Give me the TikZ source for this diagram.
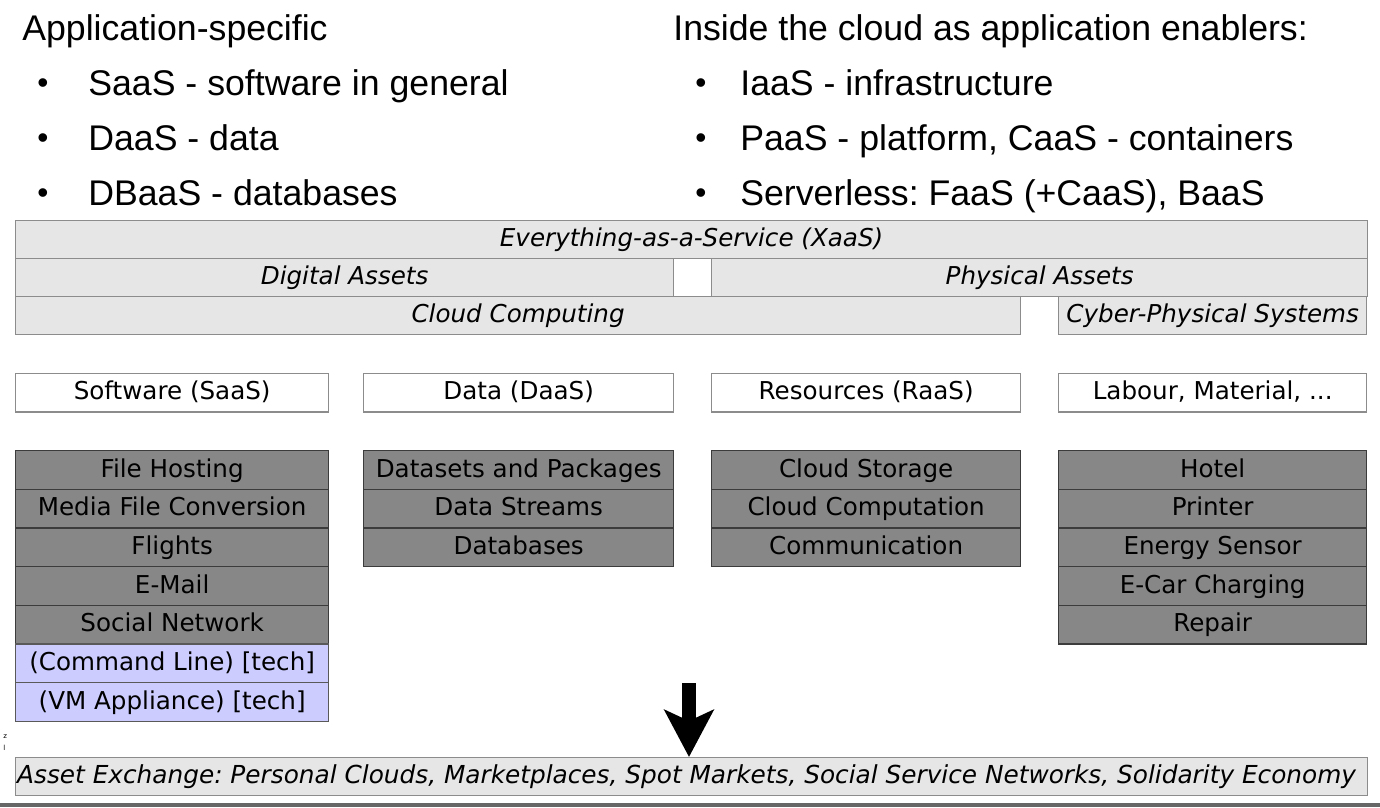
\documentclass[tikz,border=0pt]{standalone}
\usepackage{fontspec}
\setsansfont{DejaVu Sans}
\newfontfamily\slidefont{Liberation Sans}
\usetikzlibrary{arrows.meta}
\frenchspacing

\definecolor{lightfill}{HTML}{E6E6E6}
\definecolor{darkfill}{HTML}{878787}
\definecolor{techfill}{HTML}{CCCCFF}
\definecolor{edgegray}{HTML}{8C8C8C}
\definecolor{darkedge}{HTML}{3C3C3C}

\newcommand{\boxfont}{\sffamily\fontsize{14}{16}\selectfont}
\newcommand{\bigfont}{\slidefont\fontsize{20.3}{24}\selectfont}
\newcommand{\dotfont}{\slidefont\fontsize{18}{20}\selectfont}

\tikzset{
  layerbox/.style={draw=edgegray, fill=lightfill, line width=0.8pt, anchor=north west,
    inner sep=0pt, minimum height=0.76cm, text height=10.6pt, text depth=2.6pt, font=\boxfont\itshape},
  catbox/.style={draw=edgegray, fill=white, line width=0.8pt, anchor=north west,
    inner sep=0pt, minimum height=0.77cm, text height=10.6pt, text depth=2.6pt, font=\boxfont},
  itembox/.style={draw=darkedge, fill=darkfill, line width=0.8pt, anchor=north west,
    inner sep=0pt, minimum height=0.7733cm, text height=10.6pt, text depth=2.6pt, font=\boxfont},
  techbox/.style={itembox, draw=black!65, fill=techfill},
  slidetext/.style={anchor=base west, inner sep=0pt, font=\bigfont}
}

\begin{document}
\begin{tikzpicture}[x=0.02cm, y=-0.02cm]
\useasboundingbox (0,0) rectangle (1380,808);

% slide text
\node[slidetext] (apphead) at (22,40.5) {Application-specific};
\node[slidetext] (cloudhead) at (673,40.5) {Inside the cloud as application enablers:};
\foreach \txt [count=\i from 0] in {SaaS - software in general, DaaS - data, DBaaS - databases} {
  \node[slidetext, font=\dotfont] (lb\i) at (37,93+\i*55) {\textbullet};
  \node[slidetext] (lt\i) at (88,95+\i*55) {\txt};
}
\node[slidetext, font=\dotfont] (rb0) at (695,93) {\textbullet};
\node[slidetext] (rt0) at (740,95) {IaaS - infrastructure};
\node[slidetext, font=\dotfont] (rb1) at (695,148) {\textbullet};
\node[slidetext] (rt1) at (740,150) {PaaS - platform, CaaS - containers};
\node[slidetext, font=\dotfont] (rb2) at (695,203) {\textbullet};
\node[slidetext] (rt2) at (740,205) {Serverless: FaaS (+CaaS), BaaS};

% layers
\node[layerbox, minimum width=27.04cm] (xaas) at (15,220) {Everything-as-a-Service (XaaS)};
\node[layerbox, minimum width=13.16cm] (digital) at (15,258) {Digital Assets};
\node[layerbox, minimum width=13.12cm] (physical) at (711,258) {Physical Assets};
\node[layerbox, minimum width=20.1cm] (cloud) at (15,296) {Cloud Computing};
\node[layerbox, minimum width=6.16cm] (cps) at (1058,296) {Cyber-Physical Systems};

% categories
\node[catbox, minimum width=6.26cm] (software) at (15,373) {Software (SaaS)};
\node[catbox, minimum width=6.2cm] (data) at (363,373) {Data (DaaS)};
\node[catbox, minimum width=6.18cm] (resources) at (711,373) {Resources (RaaS)};
\node[catbox, minimum width=6.16cm] (labour) at (1058,373) {Labour, Material, ...};

% examples
\foreach \name [count=\i from 0] in {File Hosting, Media File Conversion, Flights, E-Mail, Social Network}
  \node[itembox, minimum width=6.26cm] (sw\i) at (15,450+\i*38.67) {\name};
\node[techbox, minimum width=6.26cm] (sw5) at (15,643.35) {(Command Line) [tech]};
\node[techbox, minimum width=6.26cm] (sw6) at (15,682) {(VM Appliance) [tech]};
\foreach \name [count=\i from 0] in {Datasets and Packages, Data Streams, Databases}
  \node[itembox, minimum width=6.2cm] (da\i) at (363,450+\i*38.67) {\name};
\foreach \name [count=\i from 0] in {Cloud Storage, Cloud Computation, Communication}
  \node[itembox, minimum width=6.18cm] (re\i) at (711,450+\i*38.67) {\name};
\foreach \name [count=\i from 0] in {Hotel, Printer, Energy Sensor, E-Car Charging, Repair}
  \node[itembox, minimum width=6.16cm] (la\i) at (1058,450+\i*38.67) {\name};

% exchange
\node[layerbox, minimum width=27.04cm, inner xsep=0.03cm,
  font=\sffamily\itshape\fontsize{14.1}{16}\selectfont] (exch) at (15,757)
  {\makebox[26.98cm][l]{Asset Exchange: Personal Clouds, Marketplaces, Spot Markets, Social Service Networks, Solidarity Economy}};
\coordinate (arrtop) at (689,683);
\draw[line width=0.28cm, -{Stealth[length=0.94cm, width=0.98cm, inset=0.22cm]}] (arrtop) -- (arrtop |- exch.north);

\node[anchor=west, inner sep=0pt, font=\sffamily\fontsize{4}{4}\selectfont] (cutz) at (3,737) {z};
\node[anchor=west, inner sep=0pt, font=\sffamily\fontsize{4}{4}\selectfont] (cutl) at (3,748) {l};
\fill[black!60] (0,803) rectangle (1380,807);
\end{tikzpicture}
\end{document}
